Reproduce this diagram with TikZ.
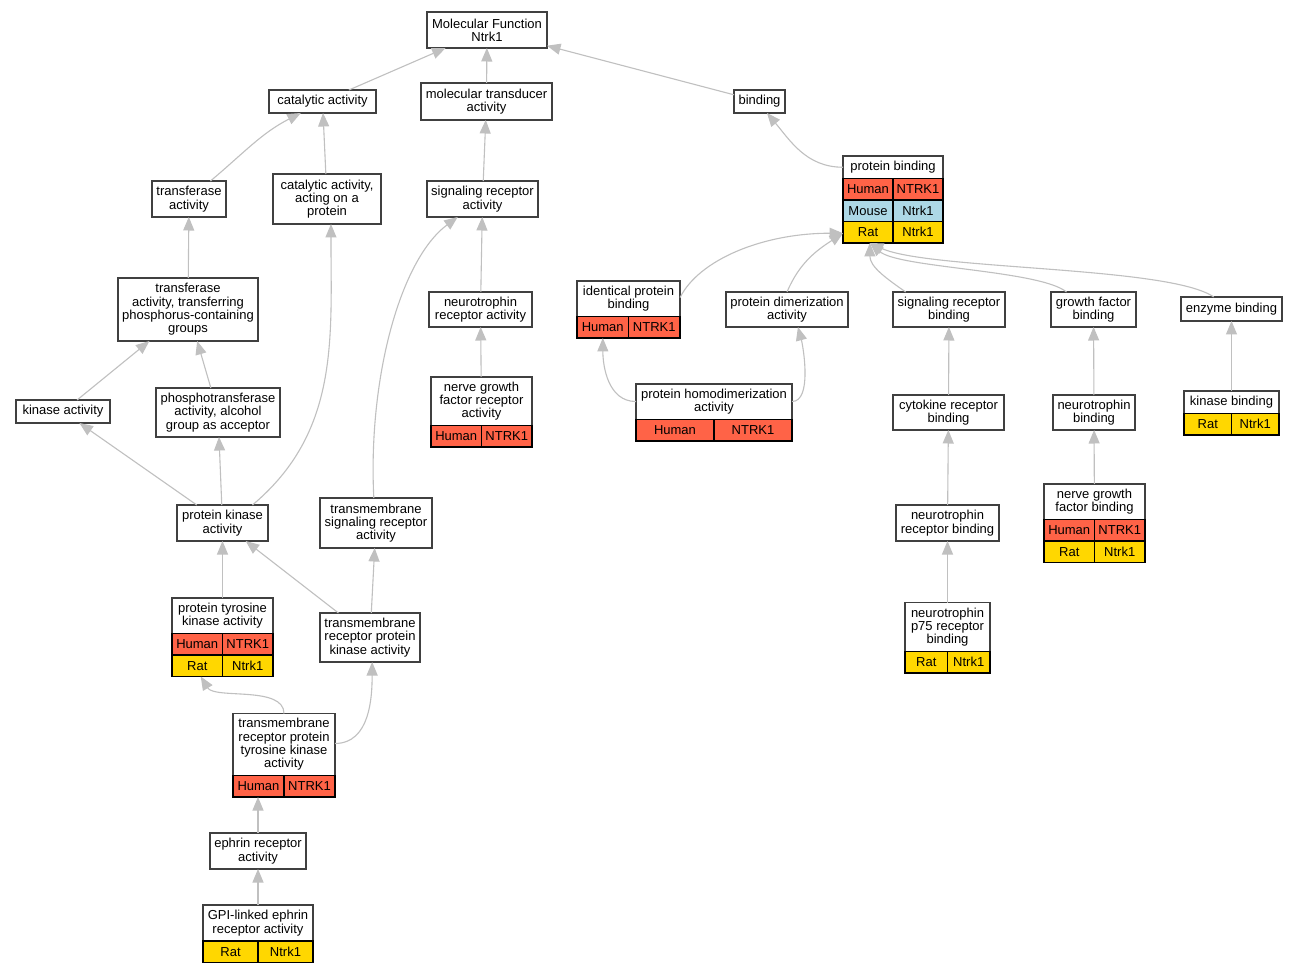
\documentclass[tikz,border=0pt]{standalone}
\usepackage{fontspec}
\setmainfont{Liberation Sans}
\usetikzlibrary{arrows.meta}
\definecolor{human}{HTML}{FF6347}
\definecolor{mouse}{HTML}{ADD8E6}
\definecolor{rat}{HTML}{FFD700}
\definecolor{isagray}{HTML}{C0C0C0}
\definecolor{boxgray}{HTML}{404040}

\begin{document}
\begin{tikzpicture}[x=1pt, y=-1pt,
  term/.style={draw=boxgray, fill=white, line width=1.3pt, align=center, inner sep=1pt, outer sep=0pt, font=\fontsize{13}{13.3}\selectfont},
  cell/.style={draw=black, line width=1.1pt, inner sep=1pt, outer sep=0pt, minimum height=21.5, font=\fontsize{13}{13.3}\selectfont},
  rec/.style={inner sep=0pt, outer sep=0pt},
  isa/.style={draw=isagray, line width=1.1pt, -{Triangle[length=13.5pt, width=11pt]}}]
\fill[white] (0,0) rectangle (1299,973);
\useasboundingbox (0,0) rectangle (1299,973);
% plain terms
\node[term, minimum width=120, minimum height=36] (mf) at (487,30) {Molecular Function\\Ntrk1};
\node[term, minimum width=107, minimum height=23] (cat) at (322.5,101.5) {catalytic activity};
\node[term, minimum width=131, minimum height=37] (mta) at (486.5,101.5) {molecular transducer\\activity};
\node[term, minimum width=51, minimum height=23] (bind) at (759.5,101.5) {binding};
\node[term, minimum width=74, minimum height=36] (ta) at (189,199) {transferase\\activity};
\node[term, minimum width=108, minimum height=50] (capr) at (327,199) {catalytic activity,\\acting on a\\protein};
\node[term, minimum width=111, minimum height=36] (sra) at (482.5,199) {signaling receptor\\activity};
\node[term, minimum width=140, minimum height=63] (ttp) at (188,309.5) {transferase\\activity, transferring\\phosphorus-containing\\groups};
\node[term, minimum width=103, minimum height=35] (nra) at (480.5,309.5) {neurotrophin\\receptor activity};
\node[term, minimum width=122, minimum height=35] (pda) at (787,309.5) {protein dimerization\\activity};
\node[term, minimum width=112, minimum height=35] (srb) at (949,309.5) {signaling receptor\\binding};
\node[term, minimum width=85, minimum height=35] (gfb) at (1093.5,309.5) {growth factor\\binding};
\node[term, minimum width=101, minimum height=24] (eb) at (1231.5,309) {enzyme binding};
\node[term, minimum width=94, minimum height=23] (ka) at (63,411.5) {kinase activity};
\node[term, minimum width=124, minimum height=49] (pta) at (218,412.5) {phosphotransferase\\activity, alcohol\\group as acceptor};
\node[term, minimum width=111, minimum height=35] (crb) at (948.5,412.5) {cytokine receptor\\binding};
\node[term, minimum width=82, minimum height=35] (nb) at (1094,412.5) {neurotrophin\\binding};
\node[term, minimum width=91, minimum height=36] (pka) at (222.5,523) {protein kinase\\activity};
\node[term, minimum width=112, minimum height=50] (tmsra) at (376,523) {transmembrane\\signaling receptor\\activity};
\node[term, minimum width=103, minimum height=36] (nrb) at (947.5,523) {neurotrophin\\receptor binding};
\node[term, minimum width=100, minimum height=49] (tmrpk) at (370,637.5) {transmembrane\\receptor protein\\kinase activity};
\node[term, minimum width=96, minimum height=36] (eph) at (258,851) {ephrin receptor\\activity};
% protein binding
\node[rec, minimum width=100, minimum height=87] (pb) at (893,199.5) {};
\node[term, anchor=north, minimum width=100, minimum height=22.5] (pbT) at (pb.north) {protein binding};
\node[cell, fill=human, anchor=north west, minimum width=50] (pb1) at (pbT.south west) {Human};
\node[cell, fill=human, anchor=north east, minimum width=50] (pb2) at (pbT.south east) {NTRK1};
\node[cell, fill=mouse, anchor=north west, minimum width=50] (pb3) at (pb1.south west) {Mouse};
\node[cell, fill=mouse, anchor=north east, minimum width=50] (pb4) at (pb2.south east) {Ntrk1};
\node[cell, fill=rat, anchor=north west, minimum width=50] (pb5) at (pb3.south west) {Rat};
\node[cell, fill=rat, anchor=north east, minimum width=50] (pb6) at (pb4.south east) {Ntrk1};
% identical protein binding
\node[rec, minimum width=103, minimum height=57] (ipb) at (628.5,309.5) {};
\node[term, anchor=north, minimum width=103, minimum height=35.5] (ipbT) at (ipb.north) {identical protein\\binding};
\node[cell, fill=human, anchor=north west, minimum width=51.5] (ipb1) at (ipbT.south west) {Human};
\node[cell, fill=human, anchor=north east, minimum width=51.5] (ipb2) at (ipbT.south east) {NTRK1};
% nerve growth factor receptor activity
\node[rec, minimum width=101, minimum height=70] (ngfra) at (481.5,412) {};
\node[term, anchor=north, minimum width=101, minimum height=48.5] (ngfraT) at (ngfra.north) {nerve growth\\factor receptor\\activity};
\node[cell, fill=human, anchor=north west, minimum width=50.5] (ngfra1) at (ngfraT.south west) {Human};
\node[cell, fill=human, anchor=north east, minimum width=50.5] (ngfra2) at (ngfraT.south east) {NTRK1};
% protein homodimerization activity
\node[rec, minimum width=156, minimum height=57] (phd) at (714,412.5) {};
\node[term, anchor=north, minimum width=156, minimum height=35.5] (phdT) at (phd.north) {protein homodimerization\\activity};
\node[cell, fill=human, anchor=north west, minimum width=78] (phd1) at (phdT.south west) {Human};
\node[cell, fill=human, anchor=north east, minimum width=78] (phd2) at (phdT.south east) {NTRK1};
% kinase binding
\node[rec, minimum width=95, minimum height=44] (kb) at (1231.5,413) {};
\node[term, anchor=north, minimum width=95, minimum height=22.5] (kbT) at (kb.north) {kinase binding};
\node[cell, fill=rat, anchor=north west, minimum width=47.5] (kb1) at (kbT.south west) {Rat};
\node[cell, fill=rat, anchor=north east, minimum width=47.5] (kb2) at (kbT.south east) {Ntrk1};
% nerve growth factor binding
\node[rec, minimum width=101, minimum height=78.5] (ngfb) at (1094.5,523.25) {};
\node[term, anchor=north, minimum width=101, minimum height=35.5] (ngfbT) at (ngfb.north) {nerve growth\\factor binding};
\node[cell, fill=human, anchor=north west, minimum width=50.5] (ngfb1) at (ngfbT.south west) {Human};
\node[cell, fill=human, anchor=north east, minimum width=50.5] (ngfb2) at (ngfbT.south east) {NTRK1};
\node[cell, fill=rat, anchor=north west, minimum width=50.5] (ngfb3) at (ngfb1.south west) {Rat};
\node[cell, fill=rat, anchor=north east, minimum width=50.5] (ngfb4) at (ngfb2.south east) {Ntrk1};
% protein tyrosine kinase activity
\node[rec, minimum width=101, minimum height=78.5] (ptk) at (222.5,637.25) {};
\node[term, anchor=north, minimum width=101, minimum height=35.5] (ptkT) at (ptk.north) {protein tyrosine\\kinase activity};
\node[cell, fill=human, anchor=north west, minimum width=50.5] (ptk1) at (ptkT.south west) {Human};
\node[cell, fill=human, anchor=north east, minimum width=50.5] (ptk2) at (ptkT.south east) {NTRK1};
\node[cell, fill=rat, anchor=north west, minimum width=50.5] (ptk3) at (ptk1.south west) {Rat};
\node[cell, fill=rat, anchor=north east, minimum width=50.5] (ptk4) at (ptk2.south east) {Ntrk1};
% neurotrophin p75 receptor binding
\node[rec, minimum width=85, minimum height=70.5] (p75) at (947.5,637.75) {};
\node[term, anchor=north, minimum width=85, minimum height=49] (p75T) at (p75.north) {neurotrophin\\p75 receptor\\binding};
\node[cell, fill=rat, anchor=north west, minimum width=42.5] (p751) at (p75T.south west) {Rat};
\node[cell, fill=rat, anchor=north east, minimum width=42.5] (p752) at (p75T.south east) {Ntrk1};
% transmembrane receptor protein tyrosine kinase activity
\node[rec, minimum width=102, minimum height=83.5] (trptk) at (284,755.25) {};
\node[term, anchor=north, minimum width=102, minimum height=62] (trptkT) at (trptk.north) {transmembrane\\receptor protein\\tyrosine kinase\\activity};
\node[cell, fill=human, anchor=north west, minimum width=51] (trptk1) at (trptkT.south west) {Human};
\node[cell, fill=human, anchor=north east, minimum width=51] (trptk2) at (trptkT.south east) {NTRK1};
% GPI-linked ephrin receptor activity
\node[rec, minimum width=110, minimum height=57.5] (gpi) at (258,933.75) {};
\node[term, anchor=north, minimum width=110, minimum height=36] (gpiT) at (gpi.north) {GPI-linked ephrin\\receptor activity};
\node[cell, fill=rat, anchor=north west, minimum width=55] (gpi1) at (gpiT.south west) {Rat};
\node[cell, fill=rat, anchor=north east, minimum width=55] (gpi2) at (gpiT.south east) {Ntrk1};
% straight is_a links
\draw[isa] (cat) -- (mf);
\draw[isa] (mta) -- (mf);
\draw[isa] (bind) -- (mf);
\draw[isa] (capr) -- (cat);
\draw[isa] (sra) -- (mta);
\draw[isa] (ttp) -- (ta);
\draw[isa] (nra) -- (sra);
\draw[isa] (ka) -- (ttp);
\draw[isa] (pta) -- (ttp);
\draw[isa] (ngfra) -- (nra);
\draw[isa] (crb) -- (srb);
\draw[isa] (nb) -- (gfb);
\draw[isa] (kb) -- (eb);
\draw[isa] (pka) -- (ka);
\draw[isa] (pka) -- (pta);
\draw[isa] (nrb) -- (crb);
\draw[isa] (ngfb) -- (nb);
\draw[isa] (ptk) -- (pka);
\draw[isa] (tmrpk) -- (pka);
\draw[isa] (tmrpk) -- (tmsra);
\draw[isa] (p75) -- (nrb);
\draw[isa] (eph) -- (eph |- trptk.south);
\draw[isa] (gpi) -- (eph);
% curved is_a links
\draw[isa] (ta.40) to[out=40, in=207] (cat.208);
\draw[isa] (pka.31) to[out=40, in=-90] (capr.-81);
\draw[isa] (tmsra.95) .. controls +(-6,-118) and +(-58,43) .. (sra.216);
\draw[isa] (pbT.west) to[out=180, in=-50] (bind.-57);
\draw[isa] (ipb.13) .. controls +(19,-38) and +(-80,0) .. (pb.214);
\draw[isa] (pda.north) to[out=67, in=213] (pb.214);
\draw[isa] (srb.158) to[out=145, in=-90] (pb.242);
\draw[isa] (gfb.147) .. controls +(-27,-22) and +(29,25) .. (pb.242);
\draw[isa] (eb.146) .. controls +(-44,-31) and +(59,27) .. (pb.242);
\draw[isa] (phd.172) to[out=180, in=-90] (ipb.228);
\draw[isa] (phd.8) to[out=0, in=-75, looseness=0.7] (pda.-58);
\draw[isa] (trptk.north) .. controls +(0,-28) and +(14,23) .. (ptk.241);
\draw[isa] (trptk.13) to[out=0, in=-90] (tmrpk.-85);
\end{tikzpicture}
\end{document}
